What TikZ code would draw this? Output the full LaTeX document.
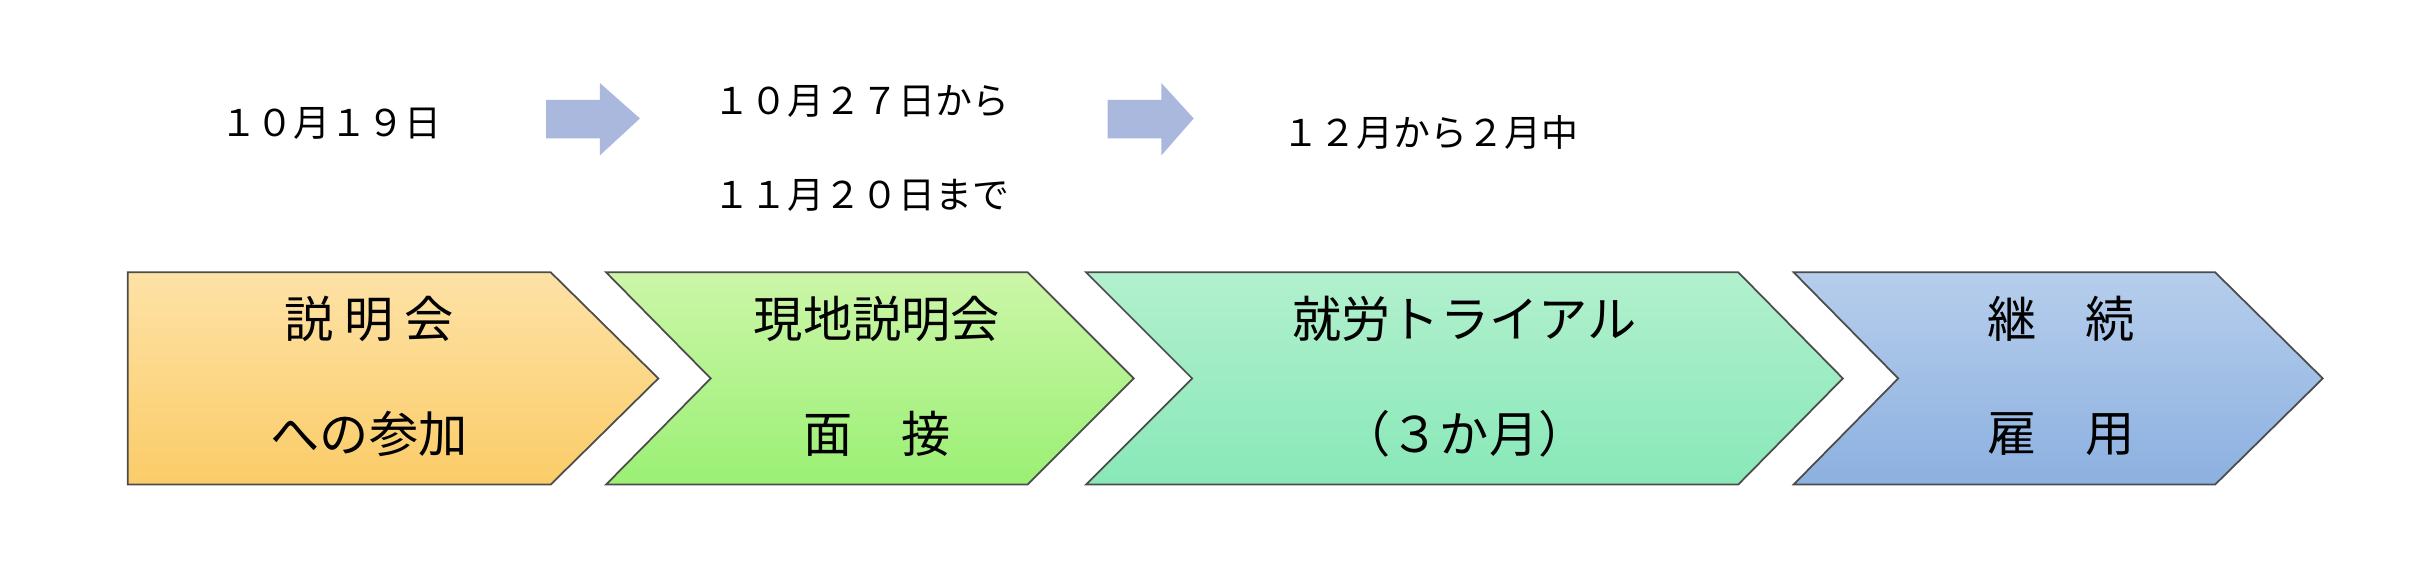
\documentclass[tikz,border=0pt]{standalone}
\usepackage{fontspec}
\setmainfont{Noto Sans CJK JP}
\begin{document}
\begin{tikzpicture}[x=0.015383cm,y=-0.015383cm,
  big/.style={font=\fontsize{14}{16}\selectfont,inner sep=0pt},
  small/.style={font=\fontsize{10.5}{12}\selectfont,inner sep=0pt},
  edge/.style={draw=black!70,line width=0.5pt},
  barrow/.style={fill={rgb,255:red,169;green,184;blue,220}}]
\useasboundingbox (0,0) rectangle (1568,369);
% chevrons
\shade[edge,top color={rgb,255:red,253;green,226;blue,166},bottom color={rgb,255:red,251;green,204;blue,104}]
  (83,177) -- (358,177) -- (428,246) -- (358,315) -- (83,315) -- cycle;
\shade[edge,top color={rgb,255:red,204;green,246;blue,168},bottom color={rgb,255:red,154;green,240;blue,116}]
  (394,177) -- (668,177) -- (737,246) -- (668,315) -- (394,315) -- (462,246) -- cycle;
\shade[edge,top color={rgb,255:red,178;green,240;blue,206},bottom color={rgb,255:red,136;green,232;blue,184}]
  (706,177) -- (1130,177) -- (1198,246) -- (1130,315) -- (706,315) -- (775,246) -- cycle;
\shade[edge,top color={rgb,255:red,182;green,206;blue,236},bottom color={rgb,255:red,140;green,176;blue,224}]
  (1166,177) -- (1440,177) -- (1510,246) -- (1440,315) -- (1166,315) -- (1234,246) -- cycle;
% block arrows
\fill[barrow] (355,65) -- (390,65) -- (390,54) -- (416,77) -- (390,101) -- (390,90) -- (355,90) -- cycle;
\fill[barrow] (720,65) -- (755,65) -- (755,54) -- (776,77) -- (755,101) -- (755,90) -- (720,90) -- cycle;
% texts
\node[big] (a1) at (240,207) {説 明 会};
\node[big] (a2) at (240,282) {への参加};
\node[big] (b1) at (570,207) {現地説明会};
\node[big] (b2) at (570,282) {面　接};
\node[big] (c1) at (952,207) {就労トライアル};
\node[big] (c2) at (952,282) {（３か月）};
\node[big] (d1) at (1340,207) {継　続};
\node[big] (d2) at (1340,282) {雇　用};
\node[small] (t1) at (215,80) {１０月１９日};
\node[small] (t2) at (560,66) {１０月２７日から};
\node[small] (t3) at (560,127) {１１月２０日まで};
\node[small] (t4) at (930,86) {１２月から２月中};
\end{tikzpicture}
\end{document}
